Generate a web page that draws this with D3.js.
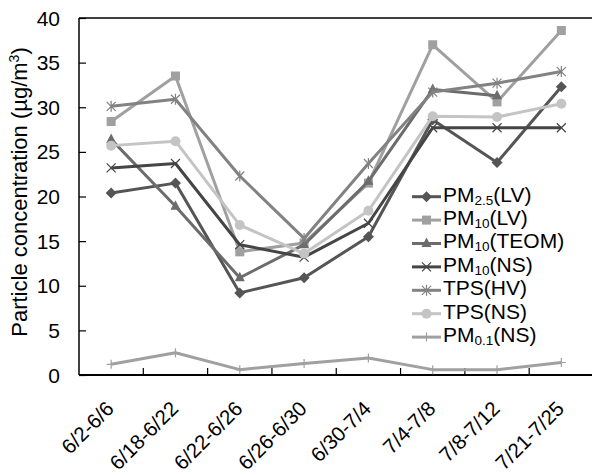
<!DOCTYPE html>
<html>
<head>
<meta charset="utf-8">
<script src="https://cdn.jsdelivr.net/npm/d3@7"></script>
<style>
  html, body { margin: 0; padding: 0; background: #fff; }
  svg { display: block; font-family: Arial, "Liberation Sans", Helvetica, sans-serif; }
</style>
</head>
<body>
<svg id="chart" width="592" height="475"></svg>
<script>
// Sampling periods (x categories)
const periods = ["6/2-6/6", "6/18-6/22", "6/22-6/26", "6/26-6/30", "6/30-7/4", "7/4-7/8", "7/8-7/12", "7/21-7/25"];

// Concentrations in µg/m3 per sampler
const pm25LV   = [20.4, 21.5, 9.2, 10.9, 15.5, 28.6, 23.8, 32.3];
const pm10LV   = [28.4, 33.5, 13.8, 14.8, 21.5, 37.0, 30.6, 38.6];
const pm10TEOM = [26.4, 18.9, 10.9, 14.6, 21.7, 32.0, 31.3, null];
const pm10NS   = [23.2, 23.7, 14.6, 13.2, 17.0, 27.7, 27.7, 27.7];
const tpsHV    = [30.1, 30.9, 22.3, 15.3, 23.7, 31.7, 32.7, 34.0];
const tpsNS    = [25.7, 26.2, 16.8, 13.6, 18.4, 29.0, 28.9, 30.4];
const pm01NS   = [1.2, 2.5, 0.6, 1.3, 1.9, 0.6, 0.6, 1.4];

const yTicks = [0, 5, 10, 15, 20, 25, 30, 35, 40];

// Series: legend label parts [text, isSubscript]
const series = [
  { name: [["PM"], ["2.5", 1], ["(LV)"]],  values: pm25LV,   color: "#555555", marker: "diamond" },
  { name: [["PM"], ["10", 1],  ["(LV)"]],  values: pm10LV,   color: "#a0a0a0", marker: "square" },
  { name: [["PM"], ["10", 1],  ["(TEOM)"]], values: pm10TEOM, color: "#6c6c6c", marker: "triangle" },
  { name: [["PM"], ["10", 1],  ["(NS)"]],  values: pm10NS,   color: "#454545", marker: "x" },
  { name: [["TPS(HV)"]],                   values: tpsHV,    color: "#828282", marker: "asterisk" },
  { name: [["TPS(NS)"]],                   values: tpsNS,    color: "#c4c4c4", marker: "circle" },
  { name: [["PM"], ["0.1", 1], ["(NS)"]],  values: pm01NS,   color: "#a0a0a0", marker: "plus" }
];

const svg = d3.select("#chart");
const plot = { left: 79, top: 18, right: 593.5, bottom: 375 };

const x = d3.scaleBand().domain(periods).range([plot.left, plot.right]).padding(0);
const y = d3.scaleLinear().domain([0, 40]).range([plot.bottom, plot.top]);
const cx = d => x(d) + x.bandwidth() / 2;

// Marker painter
function drawMarker(g, type, px, py, color) {
  switch (type) {
    case "diamond":
      g.append("path").attr("d", `M${px},${py - 5.5}L${px + 5.5},${py}L${px},${py + 5.5}L${px - 5.5},${py}Z`).attr("fill", color);
      break;
    case "square":
      g.append("rect").attr("x", px - 4.5).attr("y", py - 4.5).attr("width", 9).attr("height", 9).attr("fill", color);
      break;
    case "triangle":
      g.append("path").attr("d", `M${px},${py - 6}L${px + 5},${py + 3.5}L${px - 5},${py + 3.5}Z`).attr("fill", color);
      break;
    case "circle":
      g.append("circle").attr("cx", px).attr("cy", py).attr("r", 5).attr("fill", color);
      break;
    case "x":
      g.append("path").attr("d", `M${px - 4.5},${py - 4.5}L${px + 4.5},${py + 4.5}M${px - 4.5},${py + 4.5}L${px + 4.5},${py - 4.5}`)
        .attr("stroke", color).attr("stroke-width", 1.2).attr("fill", "none");
      break;
    case "asterisk":
      g.append("path").attr("d", `M${px - 4.5},${py - 4.5}L${px + 4.5},${py + 4.5}M${px - 4.5},${py + 4.5}L${px + 4.5},${py - 4.5}M${px},${py - 5.5}L${px},${py + 5.5}`)
        .attr("stroke", color).attr("stroke-width", 1.2).attr("fill", "none");
      break;
    case "plus":
      g.append("path").attr("d", `M${px - 4.5},${py}L${px + 4.5},${py}M${px},${py - 4.5}L${px},${py + 4.5}`)
        .attr("stroke", color).attr("stroke-width", 1.2).attr("fill", "none");
      break;
  }
}

// Frame: top border and axes
svg.append("line").attr("x1", plot.left).attr("x2", plot.right).attr("y1", plot.top).attr("y2", plot.top)
  .attr("stroke", "#000").attr("stroke-width", 1.5);

const yAxis = svg.append("g").attr("transform", `translate(${plot.left},0)`)
  .call(d3.axisRight(y).tickValues(yTicks).tickSize(7).tickFormat(""));
yAxis.select(".domain").attr("stroke", "#000").attr("stroke-width", 1.5).attr("d", `M0,${plot.top}V${plot.bottom}`);
yAxis.selectAll(".tick line").attr("stroke", "#000").attr("stroke-width", 1.2);

svg.append("g").selectAll("text").data(yTicks).join("text")
  .attr("x", 60).attr("y", d => y(d)).attr("dy", "0.36em")
  .attr("text-anchor", "end").attr("font-size", 21).attr("fill", "#000")
  .text(d => d);

// X axis with category-boundary ticks
const xAxisG = svg.append("g");
xAxisG.append("line").attr("x1", plot.left).attr("x2", plot.right).attr("y1", plot.bottom).attr("y2", plot.bottom)
  .attr("stroke", "#000").attr("stroke-width", 2);
xAxisG.selectAll("line.tick").data(periods.slice(1)).join("line").attr("class", "tick")
  .attr("x1", d => x(d)).attr("x2", d => x(d)).attr("y1", plot.bottom).attr("y2", plot.bottom - 7)
  .attr("stroke", "#000").attr("stroke-width", 1.2);
xAxisG.selectAll("text").data(periods).join("text")
  .attr("transform", d => `translate(${cx(d) + 4},${plot.bottom + 35}) rotate(-45)`)
  .attr("text-anchor", "end").attr("font-size", 20.5).attr("fill", "#000")
  .text(d => d);

// Y axis title
const yTitle = svg.append("text")
  .attr("transform", `translate(27,192) rotate(-90)`)
  .attr("text-anchor", "middle").attr("font-size", 22).attr("fill", "#000");
yTitle.append("tspan").text("Particle concentration (µg/m");
yTitle.append("tspan").attr("dy", -8).attr("font-size", 14).text("3");
yTitle.append("tspan").attr("dy", 8).text(")");

// Series lines and markers
const line = d3.line().defined(d => d.v != null).x(d => cx(d.p)).y(d => y(d.v));
series.forEach(s => {
  const pts = periods.map((p, i) => ({ p, v: s.values[i] }));
  const g = svg.append("g");
  g.append("path").datum(pts).attr("d", line).attr("fill", "none")
    .attr("stroke", s.color).attr("stroke-width", 3).attr("stroke-linejoin", "round");
  pts.filter(d => d.v != null).forEach(d => drawMarker(g, s.marker, cx(d.p), y(d.v), s.color));
});

// Legend
const legend = svg.append("g").attr("transform", "translate(412,196.7)");
series.forEach((s, i) => {
  const row = legend.append("g").attr("transform", `translate(0,${i * 23.4})`);
  row.append("line").attr("x1", 0).attr("x2", 29).attr("y1", 0).attr("y2", 0)
    .attr("stroke", s.color).attr("stroke-width", 3);
  drawMarker(row, s.marker, 14.5, 0, s.color);
  const t = row.append("text").attr("x", 31).attr("y", 7.8).attr("font-size", 21).attr("fill", "#000");
  s.name.forEach(([txt, sub]) => {
    if (sub) t.append("tspan").attr("font-size", 13.5).attr("dy", 3).text(txt);
    else t.append("tspan").attr("dy", t.selectAll("tspan").size() ? -3 : 0).text(txt);
  });
});
</script>
</body>
</html>
